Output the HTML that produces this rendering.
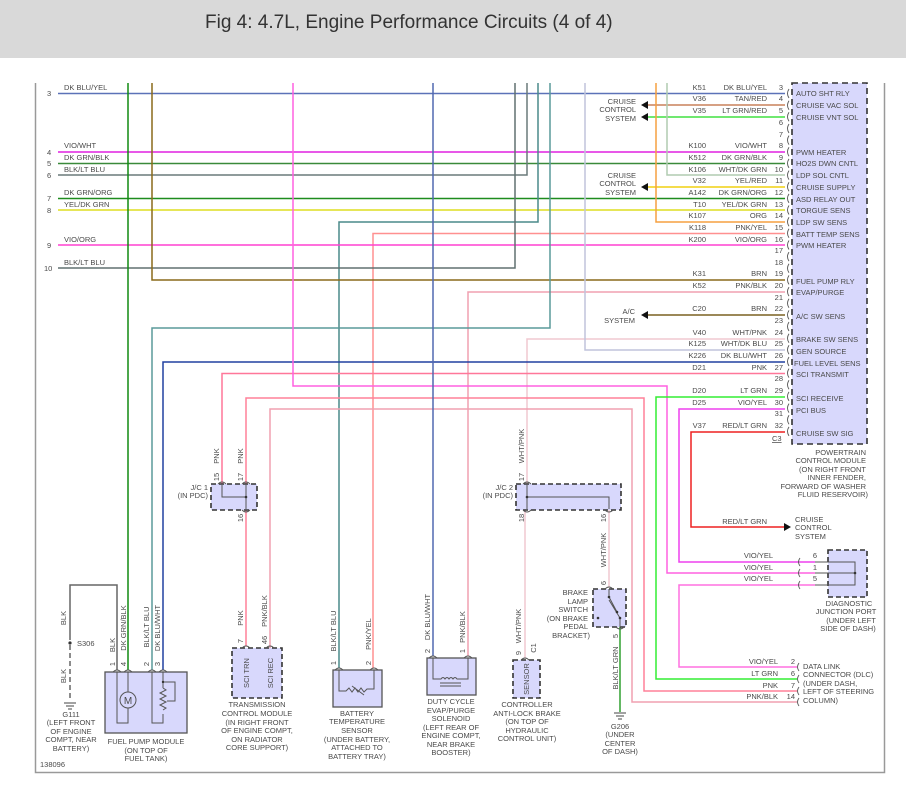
<!DOCTYPE html>
<html><head><meta charset="utf-8"><style>
html,body{margin:0;padding:0;background:#fff;}
svg{display:block;}
text{font-family:"Liberation Sans",sans-serif;font-size:7.5px;fill:#4a4a4a;}
.t{font-size:19px;fill:#333;}
.w{fill:none;stroke-width:1.5;}
.r{text-anchor:end;}
.m{text-anchor:middle;}
.box{fill:#d8d8fc;stroke:#555;stroke-width:1.3;}
.dbox{fill:#d8d8fc;stroke:#333;stroke-width:1.6;stroke-dasharray:5,3;}
.k{fill:none;stroke:#555;stroke-width:1;}
</style></head><body>
<svg width="906" height="791" viewBox="0 0 906 791" xmlns="http://www.w3.org/2000/svg">
<rect x="0" y="0" width="906" height="58" fill="#d9d9d9"/>
<text class="t" x="205" y="28">Fig 4: 4.7L, Engine Performance Circuits (4 of 4)</text>
<path d="M35.5 83 V772.5 H884.5 V83" fill="none" stroke="#999" stroke-width="1.5"/>

<rect x="792" y="83" width="75" height="361" class="dbox" style="stroke-dasharray:6,4"/>

<path class="w" stroke="#5c72b8" d="M58 93.5 H785"/>
<path class="w" stroke="#c8805a" d="M645 105 H785"/>
<path class="w" stroke="#40e040" d="M645 117 H785"/>
<path class="w" stroke="#e020e0" d="M58 152 H785"/>
<path class="w" stroke="#3a8a3a" d="M58 163.5 H785"/>
<path class="w" stroke="#6a7a7a" d="M58 175 H527 V83"/>
<path class="w" stroke="#b0ccb0" d="M667 83 V175 H785"/>
<path class="w" stroke="#f0d010" d="M645 187 H785"/>
<path class="w" stroke="#1e8c1e" d="M58 198.5 H785"/>
<path class="w" stroke="#dddd20" d="M58 210 H785"/>
<path class="w" stroke="#f5a040" stroke-width="2" fill="none" d="M656 83 V222 H785"/>
<path class="w" stroke="#4a8a8a" d="M538 83 V222 H339 V668"/>
<path class="w" stroke="#ff9090" d="M785 233.5 H373 V668"/>
<path class="w" stroke="#ff40d0" d="M58 245 H785"/>
<path class="w" stroke="#607070" d="M58 268 H515 V83"/>
<path class="w" stroke="#8a6a1a" stroke-width="2" fill="none" d="M152 83 V280 H785"/>
<path class="w" stroke="#f0a0b0" d="M785 292 H468 V656"/>
<path class="w" stroke="#5a9a9a" d="M550 83 V328 H152 V670"/>
<path class="w" stroke="#7a6020" d="M645 315 H785"/>
<path class="w" stroke="#f0c8d0" d="M785 339 H527 V484"/>
<path class="w" stroke="#c0c4dc" d="M585 83 V350 H785"/>
<path class="w" stroke="#2040a0" d="M785 362 H163 V670"/>
<path class="w" stroke="#ff7799" d="M785 373.5 H222 V484"/>
<path class="w" stroke="#ff60e0" d="M293 83 V386 H667 V573 H815"/>
<path class="w" stroke="#33ee33" stroke-width="2" fill="none" d="M785 397 H656 V679 H797"/>
<path class="w" stroke="#ff8099" d="M246 484 V398 H644 V691 H797"/>
<path class="w" stroke="#f0a0b0" d="M270 648 V409 H632 V702 H797"/>
<path class="w" stroke="#ee40ee" d="M785 409 H679 V562 H815"/>
<path class="w" stroke="#ff70e0" d="M815 585 H679 V667 H797"/>
<path class="w" stroke="#ee2020" d="M785 432 H691 V527 H784"/>
<path class="w" stroke="#ff8099" d="M246 510 V646"/>
<path class="w" stroke="#f0c8d0" d="M525 510 V658"/>
<path class="w" stroke="#f0c8d0" d="M609 510 V587"/>
<path class="w" stroke="#30a030" d="M620 627 V712"/>
<path class="w" stroke="#108a10" d="M128 83 V670"/>
<path class="w" stroke="#5068b0" d="M433 83 V656"/>
<path class="w" stroke="#666" d="M117 670 V585 H70 V640"/>
<path class="w" stroke="#666" stroke-dasharray="5,3" d="M70 645 V700"/>
<circle cx="70" cy="643" r="1.6" fill="#333"/>

<g fill="#111">
<polygon points="641,105 648,101 648,109"/>
<polygon points="641,117 648,113 648,121"/>
<polygon points="641,187 648,183 648,191"/>
<polygon points="641,315 648,311 648,319"/>
<polygon points="791,527 784,523 784,531"/>
</g>

<g stroke="#444" stroke-width="1">
<path d="M64 703 H76 M66 706 H74 M68 709 H72"/>
<path d="M614 713 H626 M616 716 H624 M618 719 H622"/>
</g>

<text x="64" y="90">DK BLU/YEL</text><text x="47" y="96">3</text>
<text x="64" y="148">VIO/WHT</text><text x="47" y="155">4</text>
<text x="64" y="160">DK GRN/BLK</text><text x="47" y="166">5</text>
<text x="64" y="172">BLK/LT BLU</text><text x="47" y="178">6</text>
<text x="64" y="195">DK GRN/ORG</text><text x="47" y="201">7</text>
<text x="64" y="207">YEL/DK GRN</text><text x="47" y="213">8</text>
<text x="64" y="242">VIO/ORG</text><text x="47" y="248">9</text>
<text x="64" y="265">BLK/LT BLU</text><text x="44" y="271">10</text>

<text class="r" x="636" y="104">CRUISE</text><text class="r" x="636" y="112">CONTROL</text><text class="r" x="636" y="121">SYSTEM</text>
<text class="r" x="636" y="178">CRUISE</text><text class="r" x="636" y="186">CONTROL</text><text class="r" x="636" y="195">SYSTEM</text>
<text class="r" x="635" y="314">A/C</text><text class="r" x="635" y="323">SYSTEM</text>

<g>
<text class="r" x="706" y="90">K51</text><text class="r" x="767" y="90">DK BLU/YEL</text><text class="r" x="783" y="90">3</text>
<text class="r" x="706" y="101">V36</text><text class="r" x="767" y="101">TAN/RED</text><text class="r" x="783" y="101">4</text>
<text class="r" x="706" y="113">V35</text><text class="r" x="767" y="113">LT GRN/RED</text><text class="r" x="783" y="113">5</text>
<text class="r" x="783" y="125">6</text><text class="r" x="783" y="137">7</text>
<text class="r" x="706" y="148">K100</text><text class="r" x="767" y="148">VIO/WHT</text><text class="r" x="783" y="148">8</text>
<text class="r" x="706" y="160">K512</text><text class="r" x="767" y="160">DK GRN/BLK</text><text class="r" x="783" y="160">9</text>
<text class="r" x="706" y="172">K106</text><text class="r" x="767" y="172">WHT/DK GRN</text><text class="r" x="783" y="172">10</text>
<text class="r" x="706" y="183">V32</text><text class="r" x="767" y="183">YEL/RED</text><text class="r" x="783" y="183">11</text>
<text class="r" x="706" y="195">A142</text><text class="r" x="767" y="195">DK GRN/ORG</text><text class="r" x="783" y="195">12</text>
<text class="r" x="706" y="207">T10</text><text class="r" x="767" y="207">YEL/DK GRN</text><text class="r" x="783" y="207">13</text>
<text class="r" x="706" y="218">K107</text><text class="r" x="767" y="218">ORG</text><text class="r" x="783" y="218">14</text>
<text class="r" x="706" y="230">K118</text><text class="r" x="767" y="230">PNK/YEL</text><text class="r" x="783" y="230">15</text>
<text class="r" x="706" y="242">K200</text><text class="r" x="767" y="242">VIO/ORG</text><text class="r" x="783" y="242">16</text>
<text class="r" x="783" y="253">17</text><text class="r" x="783" y="265">18</text>
<text class="r" x="706" y="276">K31</text><text class="r" x="767" y="276">BRN</text><text class="r" x="783" y="276">19</text>
<text class="r" x="706" y="288">K52</text><text class="r" x="767" y="288">PNK/BLK</text><text class="r" x="783" y="288">20</text>
<text class="r" x="783" y="300">21</text>
<text class="r" x="706" y="311">C20</text><text class="r" x="767" y="311">BRN</text><text class="r" x="783" y="311">22</text>
<text class="r" x="783" y="323">23</text>
<text class="r" x="706" y="335">V40</text><text class="r" x="767" y="335">WHT/PNK</text><text class="r" x="783" y="335">24</text>
<text class="r" x="706" y="346">K125</text><text class="r" x="767" y="346">WHT/DK BLU</text><text class="r" x="783" y="346">25</text>
<text class="r" x="706" y="358">K226</text><text class="r" x="767" y="358">DK BLU/WHT</text><text class="r" x="783" y="358">26</text>
<text class="r" x="706" y="370">D21</text><text class="r" x="767" y="370">PNK</text><text class="r" x="783" y="370">27</text>
<text class="r" x="783" y="381">28</text>
<text class="r" x="706" y="393">D20</text><text class="r" x="767" y="393">LT GRN</text><text class="r" x="783" y="393">29</text>
<text class="r" x="706" y="405">D25</text><text class="r" x="767" y="405">VIO/YEL</text><text class="r" x="783" y="405">30</text>
<text class="r" x="783" y="416">31</text>
<text class="r" x="706" y="428">V37</text><text class="r" x="767" y="428">RED/LT GRN</text><text class="r" x="783" y="428">32</text>
<text x="772" y="441" text-decoration="underline">C3</text>
</g>
<g fill="none" stroke="#555" stroke-width="0.9">
<path d="M789 89 q-3 4.5 0 9 M789 100.7 q-3 4.5 0 9 M789 112.3 q-3 4.5 0 9 M789 124 q-3 4.5 0 9 M789 135.6 q-3 4.5 0 9 M789 147.3 q-3 4.5 0 9 M789 158.9 q-3 4.5 0 9 M789 170.6 q-3 4.5 0 9 M789 182.2 q-3 4.5 0 9 M789 193.9 q-3 4.5 0 9 M789 205.5 q-3 4.5 0 9 M789 217.2 q-3 4.5 0 9 M789 228.8 q-3 4.5 0 9 M789 240.5 q-3 4.5 0 9 M789 252.1 q-3 4.5 0 9 M789 263.8 q-3 4.5 0 9 M789 275.4 q-3 4.5 0 9 M789 287.1 q-3 4.5 0 9 M789 298.7 q-3 4.5 0 9 M789 310.4 q-3 4.5 0 9 M789 322 q-3 4.5 0 9 M789 333.7 q-3 4.5 0 9 M789 345.3 q-3 4.5 0 9 M789 357 q-3 4.5 0 9 M789 368.6 q-3 4.5 0 9 M789 380.3 q-3 4.5 0 9 M789 391.9 q-3 4.5 0 9 M789 403.6 q-3 4.5 0 9 M789 415.2 q-3 4.5 0 9 M789 426.9 q-3 4.5 0 9"/>
<path d="M800 558 q-3 4 0 8 M800 569 q-3 4 0 8 M800 581 q-3 4 0 8"/>
<path d="M799 663 q-3 4 0 8 M799 675 q-3 4 0 8 M799 687 q-3 4 0 8 M799 698 q-3 4 0 8"/>
</g>
<g>
<text x="796" y="96">AUTO SHT RLY</text>
<text x="796" y="108">CRUISE VAC SOL</text>
<text x="796" y="120">CRUISE VNT SOL</text>
<text x="796" y="155">PWM HEATER</text>
<text x="796" y="166">HO2S DWN CNTL</text>
<text x="796" y="178">LDP SOL CNTL</text>
<text x="796" y="190">CRUISE SUPPLY</text>
<text x="796" y="202">ASD RELAY OUT</text>
<text x="796" y="213">TORGUE SENS</text>
<text x="796" y="225">LDP SW SENS</text>
<text x="796" y="237">BATT TEMP SENS</text>
<text x="796" y="248">PWM HEATER</text>
<text x="796" y="284">FUEL PUMP RLY</text>
<text x="796" y="295">EVAP/PURGE</text>
<text x="796" y="319">A/C SW SENS</text>
<text x="796" y="342">BRAKE SW SENS</text>
<text x="796" y="354">GEN SOURCE</text>
<text x="794" y="366">FUEL LEVEL SENS</text>
<text x="796" y="377">SCI TRANSMIT</text>
<text x="796" y="401">SCI RECEIVE</text>
<text x="796" y="413">PCI BUS</text>
<text x="796" y="436">CRUISE SW SIG</text>
</g>
<text class="r" x="866" y="455">POWERTRAIN</text>
<text class="r" x="866" y="463">CONTROL MODULE</text>
<text class="r" x="866" y="472">(ON RIGHT FRONT</text>
<text class="r" x="866" y="480">INNER FENDER,</text>
<text class="r" x="866" y="489">FORWARD OF WASHER</text>
<text class="r" x="868" y="497">FLUID RESERVOIR)</text>
<text class="r" x="767" y="524">RED/LT GRN</text>
<text x="795" y="522">CRUISE</text><text x="795" y="530">CONTROL</text><text x="795" y="539">SYSTEM</text>

<rect x="828" y="550" width="39" height="47" class="dbox"/>
<path class="k" d="M815 562 H855 V585 H815 M815 573 H855"/>
<circle cx="855" cy="573" r="1.3" fill="#333"/>
<text class="r" x="773" y="558">VIO/YEL</text><text class="r" x="817" y="558">6</text>
<text class="r" x="773" y="570">VIO/YEL</text><text class="r" x="817" y="570">1</text>
<text class="r" x="773" y="581">VIO/YEL</text><text class="r" x="817" y="581">5</text>
<text class="m" x="849" y="606">DIAGNOSTIC</text>
<text class="m" x="846" y="614">JUNCTION PORT</text>
<text class="m" x="851" y="623">(UNDER LEFT</text>
<text class="m" x="848" y="631">SIDE OF DASH)</text>

<text class="r" x="778" y="664">VIO/YEL</text><text class="r" x="795" y="664">2</text>
<text class="r" x="778" y="676">LT GRN</text><text class="r" x="795" y="676">6</text>
<text class="r" x="778" y="688">PNK</text><text class="r" x="795" y="688">7</text>
<text class="r" x="778" y="699">PNK/BLK</text><text class="r" x="795" y="699">14</text>
<text x="803" y="669">DATA LINK</text>
<text x="803" y="677">CONNECTOR (DLC)</text>
<text x="803" y="686">(UNDER DASH,</text>
<text x="803" y="694">LEFT OF STEERING</text>
<text x="803" y="703">COLUMN)</text>

<rect x="211" y="484" width="46" height="26" class="dbox"/>
<path class="k" d="M222 485 V497 H246 M246 485 V509"/>
<circle cx="246" cy="497" r="1.3" fill="#333"/>
<text class="r" x="208" y="490">J/C 1</text><text class="r" x="208" y="498">(IN PDC)</text>
<rect x="516" y="484" width="105" height="26" class="dbox"/>
<path class="k" d="M527 485 V509 M527 497 H609 V509"/>
<circle cx="527" cy="497" r="1.3" fill="#333"/>
<text class="r" x="513" y="490">J/C 2</text><text class="r" x="513" y="498">(IN PDC)</text>

<rect x="105" y="672" width="82" height="61" class="box"/>
<path class="k" d="M117 672 V723 H128 V708 M128 692 V672 M152 672 V723 H163 V714 M163 688 V672 M163 682 H175 V701 H167"/>
<circle cx="128" cy="700" r="8" fill="#d8d8fc" stroke="#555"/>
<text class="m" x="128" y="704" style="font-size:10px">M</text>
<path class="k" d="M163 688 l3 2 l-6 3 l6 3 l-6 3 l6 3 l-6 3 l6 3 l-3 2"/>
<circle cx="163" cy="682" r="1.2" fill="#333"/>
<text class="m" x="146" y="744">FUEL PUMP MODULE</text>
<text class="m" x="146" y="753">(ON TOP OF</text>
<text class="m" x="146" y="761">FUEL TANK)</text>

<text class="m" x="71" y="717">G111</text>
<text class="m" x="71" y="725">(LEFT FRONT</text>
<text class="m" x="71" y="734">OF ENGINE</text>
<text class="m" x="71" y="742">COMPT, NEAR</text>
<text class="m" x="71" y="751">BATTERY)</text>
<text x="77" y="646">S306</text>
<text x="40" y="767">138096</text>

<rect x="232" y="648" width="50" height="50" class="dbox"/>
<text class="m" transform="translate(249,673) rotate(-90)">SCI TRN</text>
<text class="m" transform="translate(273,673) rotate(-90)">SCI REC</text>
<text class="m" x="257" y="707">TRANSMISSION</text>
<text class="m" x="257" y="716">CONTROL MODULE</text>
<text class="m" x="257" y="725">(IN RIGHT FRONT</text>
<text class="m" x="257" y="733">OF ENGINE COMPT,</text>
<text class="m" x="257" y="742">ON RADIATOR</text>
<text class="m" x="257" y="750">CORE SUPPORT)</text>

<rect x="333" y="670" width="49" height="37" class="box"/>
<path class="k" d="M339 670 V691 H346 l3 -3 l3 4 l3 -4 l3 4 l3 -4 l3 4 l3 -3 H374 V670 M352 686 l12 9"/>
<text class="m" x="357" y="716">BATTERY</text>
<text class="m" x="357" y="724">TEMPERATURE</text>
<text class="m" x="357" y="733">SENSOR</text>
<text class="m" x="357" y="742">(UNDER BATTERY,</text>
<text class="m" x="357" y="750">ATTACHED TO</text>
<text class="m" x="357" y="759">BATTERY TRAY)</text>

<rect x="427" y="658" width="49" height="37" class="box"/>
<path class="k" d="M433 658 V679 H441 q2 -3 4 0 q2 -3 4 0 q2 -3 4 0 q2 -3 4 0 H468 V658 M440 683 H461 M440 686 H461"/>
<text class="m" x="451" y="704">DUTY CYCLE</text>
<text class="m" x="451" y="713">EVAP/PURGE</text>
<text class="m" x="451" y="721">SOLENOID</text>
<text class="m" x="451" y="730">(LEFT REAR OF</text>
<text class="m" x="451" y="738">ENGINE COMPT,</text>
<text class="m" x="451" y="747">NEAR BRAKE</text>
<text class="m" x="451" y="755">BOOSTER)</text>

<rect x="513" y="660" width="27" height="38" class="dbox"/>
<text class="m" transform="translate(529,679) rotate(-90)">SENSOR</text>
<text class="m" x="527" y="707">CONTROLLER</text>
<text class="m" x="527" y="716">ANTI-LOCK BRAKE</text>
<text class="m" x="527" y="724">(ON TOP OF</text>
<text class="m" x="527" y="733">HYDRAULIC</text>
<text class="m" x="527" y="741">CONTROL UNIT)</text>

<rect x="593" y="589" width="33" height="38" class="dbox"/>
<path class="k" d="M609 589 V597 L617 612 M620 627 V618 L609 600"/>
<circle cx="609" cy="597" r="1.3" fill="#333"/><circle cx="617" cy="612" r="1.3" fill="#333"/><circle cx="620" cy="618" r="1.3" fill="#333"/><circle cx="598" cy="618" r="1.3" fill="#333"/>
<text class="r" x="588" y="595">BRAKE</text>
<text class="r" x="588" y="604">LAMP</text>
<text class="r" x="588" y="612">SWITCH</text>
<text class="r" x="588" y="621">(ON BRAKE</text>
<text class="r" x="588" y="629">PEDAL</text>
<text class="r" x="590" y="638">BRACKET)</text>
<text class="m" x="620" y="729">G206</text>
<text class="m" x="620" y="737">(UNDER</text>
<text class="m" x="620" y="746">CENTER</text>
<text class="m" x="620" y="754">OF DASH)</text>

<g fill="none" stroke="#555" stroke-width="0.9">
<path d="M113 672 q4 -4 8 0 M124 672 q4 -4 8 0 M148 672 q4 -4 8 0 M159 672 q4 -4 8 0"/>
<path d="M242 648 q4 -4 8 0 M266 648 q4 -4 8 0"/>
<path d="M335 670 q4 -4 8 0 M370 670 q4 -4 8 0"/>
<path d="M429 658 q4 -4 8 0 M464 658 q4 -4 8 0"/>
<path d="M521 660 q4 -4 8 0"/>
<path d="M605 589 q4 -4 8 0 M616 627 q4 4 8 0"/>
<path d="M218 484 q4 -4 8 0 M242 484 q4 -4 8 0 M242 510 q4 4 8 0"/>
<path d="M523 484 q4 -4 8 0 M523 510 q4 4 8 0 M605 510 q4 4 8 0"/>
</g>

<g>
<text class="m" transform="translate(66,618) rotate(-90)">BLK</text>
<text class="m" transform="translate(66,676) rotate(-90)">BLK</text>
<text class="m" transform="translate(115,645) rotate(-90)">BLK</text>
<text class="m" transform="translate(126,628) rotate(-90)">DK GRN/BLK</text>
<text class="m" transform="translate(149,627) rotate(-90)">BLK/LT BLU</text>
<text class="m" transform="translate(160,628) rotate(-90)">DK BLU/WHT</text>
<text class="m" transform="translate(115,664) rotate(-90)">1</text>
<text class="m" transform="translate(126,664) rotate(-90)">4</text>
<text class="m" transform="translate(149,664) rotate(-90)">2</text>
<text class="m" transform="translate(160,664) rotate(-90)">3</text>
<text class="m" transform="translate(243,618) rotate(-90)">PNK</text>
<text class="m" transform="translate(267,611) rotate(-90)">PNK/BLK</text>
<text class="m" transform="translate(243,641) rotate(-90)">7</text>
<text class="m" transform="translate(267,640) rotate(-90)">46</text>
<text class="m" transform="translate(336,631) rotate(-90)">BLK/LT BLU</text>
<text class="m" transform="translate(371,634) rotate(-90)">PNK/YEL</text>
<text class="m" transform="translate(336,663) rotate(-90)">1</text>
<text class="m" transform="translate(371,663) rotate(-90)">2</text>
<text class="m" transform="translate(430,617) rotate(-90)">DK BLU/WHT</text>
<text class="m" transform="translate(465,627) rotate(-90)">PNK/BLK</text>
<text class="m" transform="translate(430,651) rotate(-90)">2</text>
<text class="m" transform="translate(465,651) rotate(-90)">1</text>
<text class="m" transform="translate(521,626) rotate(-90)">WHT/PNK</text>
<text class="m" transform="translate(521,653) rotate(-90)">9</text>
<text class="m" transform="translate(536,648) rotate(-90)">C1</text>
<text class="m" transform="translate(606,583) rotate(-90)">6</text>
<text class="m" transform="translate(618,636) rotate(-90)">5</text>
<text class="m" transform="translate(618,668) rotate(-90)">BLK/LT GRN</text>
<text class="m" transform="translate(219,456) rotate(-90)">PNK</text>
<text class="m" transform="translate(243,456) rotate(-90)">PNK</text>
<text class="m" transform="translate(219,477) rotate(-90)">15</text>
<text class="m" transform="translate(243,477) rotate(-90)">17</text>
<text class="m" transform="translate(243,518) rotate(-90)">16</text>
<text class="m" transform="translate(524,446) rotate(-90)">WHT/PNK</text>
<text class="m" transform="translate(524,477) rotate(-90)">17</text>
<text class="m" transform="translate(524,518) rotate(-90)">18</text>
<text class="m" transform="translate(606,518) rotate(-90)">16</text>
<text class="m" transform="translate(606,550) rotate(-90)">WHT/PNK</text>
</g>
</svg>
</body></html>
